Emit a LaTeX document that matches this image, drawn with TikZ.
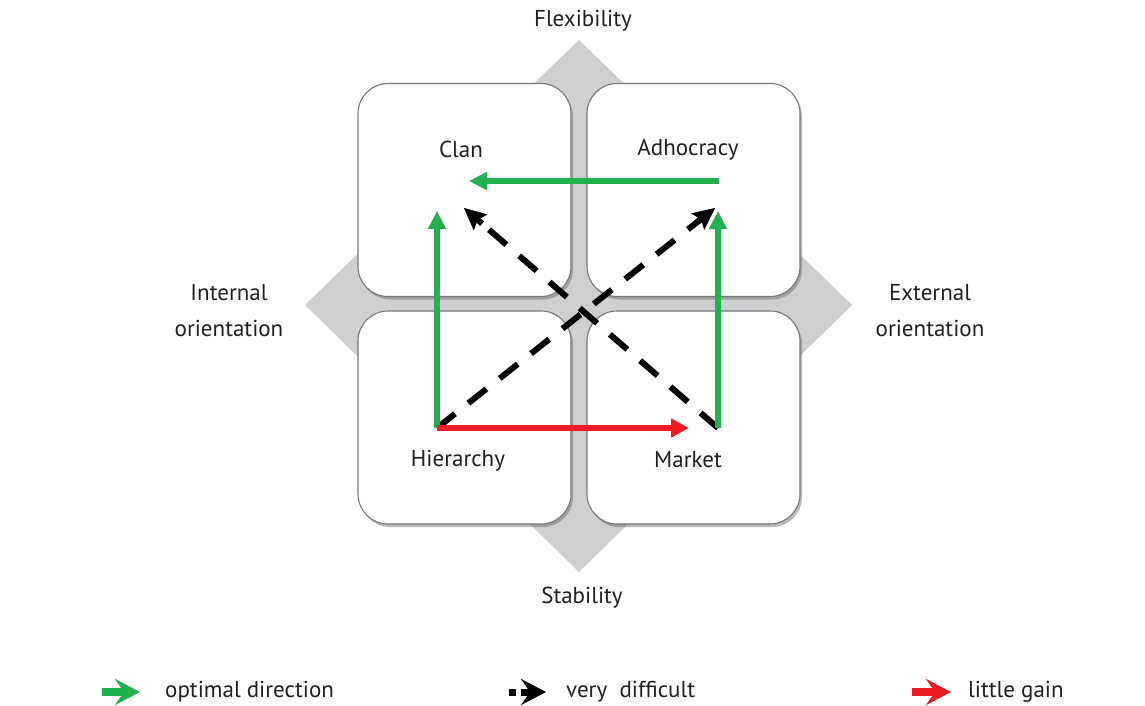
\documentclass[tikz,border=0pt]{standalone}
\usepackage{fontspec}
\setmainfont{PT Sans}
\usetikzlibrary{arrows.meta,shadows,calc}
\definecolor{dgray}{RGB}{206,207,209}
\definecolor{bgreen}{RGB}{34,177,76}
\definecolor{bred}{RGB}{237,28,36}
\definecolor{boxline}{RGB}{120,120,120}
\definecolor{txt}{RGB}{35,31,32}
\tikzset{
  box/.style={draw=boxline, line width=1.1pt, fill=white, rounded corners=30pt,
     minimum width=213pt, minimum height=213pt, inner sep=0pt,
     drop shadow={shadow xshift=2pt, shadow yshift=-3pt, opacity=0.45, fill=black!60}},
  lab/.style={font=\fontsize{23}{27}\selectfont, text=txt, inner sep=0pt, align=center},
  garrow/.style={draw=bgreen, line width=5.5pt, -{Triangle[length=18pt,width=17pt]}},
  rarrow/.style={draw=bred, line width=5.5pt, -{Triangle[length=18pt,width=18pt]}},
  dline/.style={draw=black, line width=6pt, dash pattern=on 23pt off 17pt, shorten >=16pt},
  dtip/.style={draw=black, line width=6pt, solid, -{Stealth[length=22pt,width=21pt,inset=4pt,line width=0.5pt,fill=black]}},
  lgarrow/.style={line width=8pt, -{Stealth[length=25pt,width=26pt,inset=9pt]}},
}
\begin{document}
\begin{tikzpicture}[x=1pt,y=-1pt]
\useasboundingbox (0,0) rectangle (1145,706);
% diamond
\fill[dgray] (579,40) -- (852,305) -- (579,572) -- (305,305) -- cycle;
% boxes
\node[box] (clanbox) at (464.5,190) {};
\node[box] (adhbox) at (693.5,190) {};
\node[box] (hierbox) at (464.5,417.5) {};
\node[box] (markbox) at (693.5,417.5) {};
% labels
\node[lab] (clan) at (461,149) {Clan};
\node[lab] (adh) at (688,150) {Adhocracy};
\node[lab] (hier) at (458,461) {Hierarchy};
\node[lab] (mark) at (688,460) {Market};
\node[lab] (flex) at (583,21) {Flexibility};
\node[lab] (stab) at (582,598) {Stability};
\node[lab, font=\fontsize{23}{36}\selectfont] (int) at (229,311) {Internal\\orientation};
\node[lab, font=\fontsize{23}{36}\selectfont] (ext) at (930,311) {External\\orientation};
% anchor points
\coordinate (hp) at (437,428);
\coordinate (mp) at (718,428);
\coordinate (cup) at (437,211);
\coordinate (aup) at (718,211);
\coordinate (adst) at (719,181);
\coordinate (cend) at (469,181);
\coordinate (mend) at (689,428);
\coordinate (cdiag) at (464,208);
\coordinate (adiag) at (715,208);
% dashed
\draw[dline] (hp) -- (adiag);
\draw[dtip] ($(adiag)!24pt!(hp)$) -- (adiag);
\draw[dline] (mp) -- (cdiag);
\draw[dtip] ($(cdiag)!24pt!(mp)$) -- (cdiag);
% green
\draw[garrow] (adst) -- (cend);
\draw[garrow] (hp) -- (cup);
\draw[garrow] (mp) -- (aup);
% red
\draw[rarrow] (hp) -- (mend);
% legend
\coordinate (l1a) at (102,692); \coordinate (l1b) at (140,692);
\coordinate (l2a) at (509,692); \coordinate (l2m) at (521,692); \coordinate (l2b) at (546,692);
\coordinate (l3a) at (912,692); \coordinate (l3b) at (951,692);
\draw[lgarrow, bgreen] (l1a) -- (l1b);
\fill[black] ($(l2a)+(0,-3.5)$) rectangle ($(l2a)+(7,3.5)$);
\draw[lgarrow, black, line width=7pt] (l2m) -- (l2b);
\draw[lgarrow, bred] (l3a) -- (l3b);
\node[lab, anchor=west] (t1) at (165,692) {optimal direction};
\node[lab, anchor=west] (t2) at (566,692) {very\ \ difficult};
\node[lab, anchor=west] (t3) at (968,692) {little gain};
\end{tikzpicture}
\end{document}
